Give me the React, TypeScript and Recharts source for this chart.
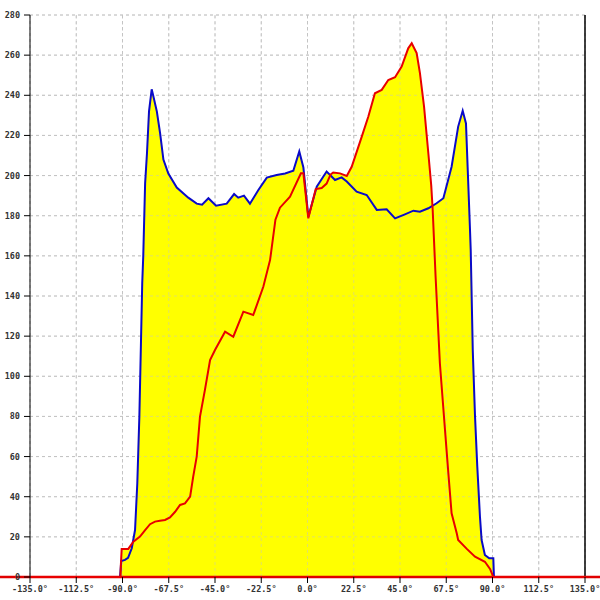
import React from 'react';
import {
  ComposedChart,
  Area,
  Line,
  XAxis,
  YAxis,
  CartesianGrid,
  ReferenceLine,
} from 'recharts';

// angles in degrees
const blueAngles = [
  -135, -91.2, -90.6, -88.8, -87.3, -85.5, -83.9, -82.8, -81.8, -81.1, -80.4, -79.9, -79.0, -78.1,
  -77.1, -75.8, -75.1, -73.3, -71.7, -70.1, -67.7, -63.6, -58.0, -53.9, -51.3, -48.2, -44.5, -39.3,
  -35.7, -33.7, -30.9, -28.0, -23.9, -19.8, -15.0, -10.9, -6.9, -4.0, -2.0, 0.4, 4.5, 9.3, 13.4,
  16.6, 19.1, 23.9, 28.8, 33.7, 38.5, 42.6, 47.4, 51.5, 54.7, 58.8, 62.8, 66.1, 70.1, 73.3, 75.5,
  77.1, 79.0, 79.4, 80.4, 81.5, 82.6, 83.9, 84.7, 86.3, 88.4, 90.4, 90.7, 135,
];
const blueValues = [
  0, 0, 8, 8.5, 9.5, 14.3, 23.4, 46.7, 80, 113, 146.5, 160, 196, 211,
  232, 243, 240, 232, 221, 208, 201, 194, 189, 186, 185.5, 188.7, 185, 186,
  190.8, 189, 190, 186, 192.8, 199, 200.3, 201, 202.4, 212, 204, 179.5, 194.5, 202, 197.8,
  199.1, 197, 192, 190.3, 182.9, 183.2, 178.7, 180.7, 182.5, 182, 183.7, 186.2, 188.7, 204.4, 224.4, 232.3,
  226, 174.5, 163, 113, 80, 55, 30, 18.4, 11, 9.3, 9.3, 0, 0,
];

const redAngles = [
  -135, -91.0, -90.8, -90.4, -87.2, -84.7, -81.5, -79.0, -76.6, -74.2, -71.8, -69.3, -66.9, -64.4,
  -62.0, -59.6, -57.1, -55.6, -53.9, -52.3, -49.9, -47.4, -45.0, -40.1, -36.1, -31.2, -26.4, -21.5,
  -18.2, -15.6, -13.4, -8.5, -3.2, -2.0, 0.4, 4.0, 6.9, 9.3, 11.2, 12.5, 15.8, 19.1, 21.5,
  26.4, 29.6, 32.8, 36.1, 39.3, 42.6, 45.8, 49.0, 50.7, 53.1, 54.7, 56.7, 58.8, 60.2, 60.9, 62.3,
  64.4, 66.9, 68.5, 70.1, 72.6, 73.3, 77.5, 81.5, 86.3, 88.8, 90.4, 135,
];
const redValues = [
  0, 0, 6, 14, 14, 17.6, 20.1, 23.4, 26.3, 27.6, 28, 28.4, 29.7, 32.5,
  35.9, 36.7, 40, 50, 60, 79.9, 93.2, 108.1, 113.1, 122.2, 119.7, 132.2, 130.5, 144.6,
  158, 178, 184, 189.5, 201.1, 201.1, 178.7, 193.3, 193.8, 196, 200.5, 201.5, 201.1, 199.8, 204.4,
  219.4, 229.4, 241, 242.7, 247.6, 249, 254.3, 263.4, 265.9, 261, 251, 234.3, 211, 195, 183, 150,
  106.5, 73.2, 52, 31.7, 21.8, 18.4, 14, 10.1, 7.6, 4, 0, 0,
];

const xTicks = [-135, -112.5, -90, -67.5, -45, -22.5, 0, 22.5, 45, 67.5, 90, 112.5, 135];
const yTicks = [0, 20, 40, 60, 80, 100, 120, 140, 160, 180, 200, 220, 240, 260, 280];

type Row = { a: number; blue?: number; red?: number };

const buildRows = (): Row[] => {
  const map = new Map<number, Row>();
  blueAngles.forEach((a, i) => {
    const r = map.get(a) || { a };
    r.blue = blueValues[i];
    map.set(a, r);
  });
  redAngles.forEach((a, i) => {
    const r = map.get(a) || { a };
    r.red = redValues[i];
    map.set(a, r);
  });
  return Array.from(map.values()).sort((p, q) => p.a - q.a);
};

const rows = buildRows();

const tickFont = { fill: '#333', fontSize: 8.5, fontWeight: 'bold', fontFamily: 'DejaVu Sans Mono' };
const gridColor = '#c4c4c4';

export default function App() {
  return (
    <div style={{ position: 'absolute', left: 0, top: 0, width: 600, height: 600, background: '#fff' }}>
      <ComposedChart
        width={600}
        height={600}
        data={rows}
        margin={{ top: 15, right: 15, bottom: 0, left: 0 }}
      >
        <CartesianGrid stroke={gridColor} strokeDasharray="3 3" />
        <XAxis
          dataKey="a"
          type="number"
          domain={[-135, 135]}
          ticks={xTicks}
          interval={0}
          height={23}
          axisLine={false}
          tickLine={{ stroke: '#000' }}
          tickSize={6}
          tickMargin={3}
          tick={tickFont}
          tickFormatter={(v: number) => `${v.toFixed(1)}°`}
        />
        <YAxis
          domain={[0, 280]}
          ticks={yTicks}
          interval={0}
          width={30}
          axisLine={{ stroke: '#000' }}
          tickLine={{ stroke: '#000' }}
          tickSize={6}
          tickMargin={4}
          tick={tickFont}
        />
        <Area
          dataKey="blue"
          type="linear"
          fill="#ffff00"
          fillOpacity={1}
          stroke="none"
          connectNulls
          isAnimationActive={false}
        />
        <Area
          dataKey="red"
          type="linear"
          fill="#ffff00"
          fillOpacity={1}
          stroke="none"
          connectNulls
          isAnimationActive={false}
        />
        {/* faint grid showing through the yellow fill */}
        {xTicks.slice(1, -1).map((t) => (
          <ReferenceLine key={`gx${t}`} x={t} stroke={gridColor} strokeOpacity={0.5} strokeDasharray="3 3" />
        ))}
        {yTicks.slice(1).map((t) => (
          <ReferenceLine key={`gy${t}`} y={t} stroke={gridColor} strokeOpacity={0.5} strokeDasharray="3 3" />
        ))}
        <ReferenceLine x={135} stroke="#000" strokeWidth={1.5} />
        <ReferenceLine
          segment={[{ x: -152, y: 0 }, { x: 145, y: 0 }]}
          stroke="#e00000"
          strokeWidth={2.5}
          ifOverflow="visible"
        />
        <Line
          dataKey="blue"
          type="linear"
          stroke="#0a0ac8"
          strokeWidth={2}
          dot={false}
          connectNulls
          isAnimationActive={false}
        />
        <Line
          dataKey="red"
          type="linear"
          stroke="#e80000"
          strokeWidth={2}
          dot={false}
          connectNulls
          isAnimationActive={false}
        />
      </ComposedChart>
    </div>
  );
}
